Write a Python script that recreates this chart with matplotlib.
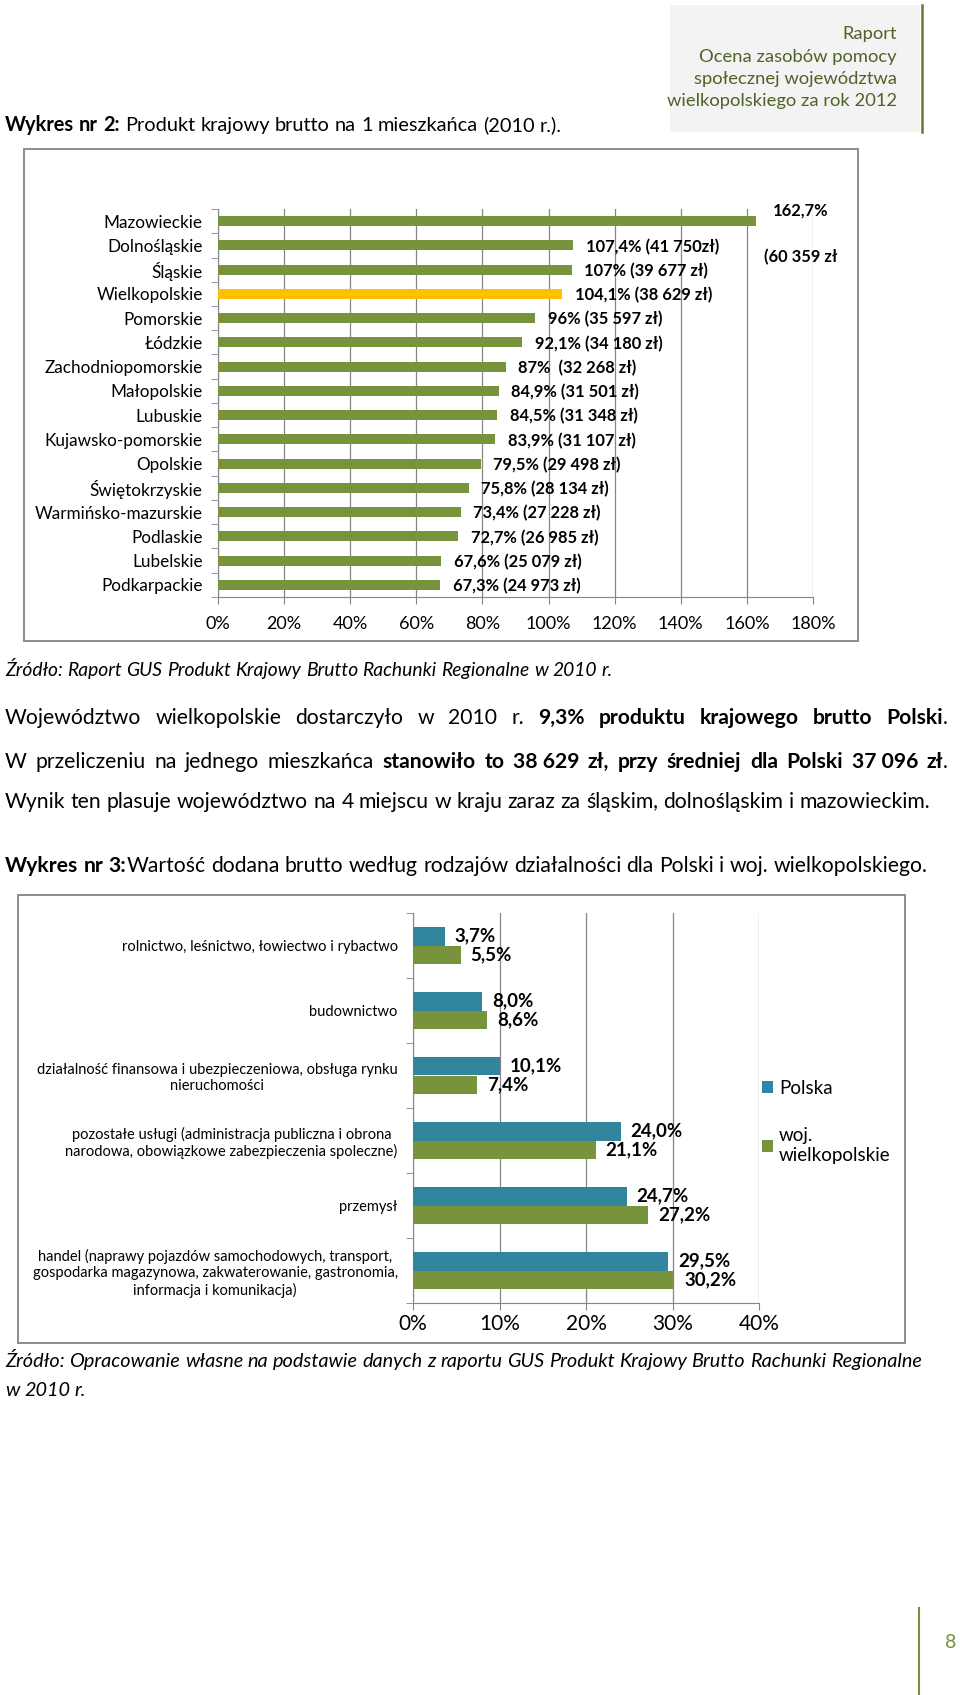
import matplotlib
matplotlib.use("Agg")
import matplotlib.pyplot as plt
import numpy as np
from matplotlib.patches import Rectangle
from matplotlib.lines import Line2D

plt.rcParams['font.family'] = ['Lato', 'DejaVu Sans']

# --- data: chart 2 (GDP per capita 2010) ---
regions = ["Mazowieckie", "Dolnośląskie", "Śląskie", "Wielkopolskie", "Pomorskie",
           "Łódzkie", "Zachodniopomorskie", "Małopolskie", "Lubuskie", "Kujawsko-pomorskie",
           "Opolskie", "Świętokrzyskie", "Warmińsko-mazurskie", "Podlaskie", "Lubelskie",
           "Podkarpackie"]
gdp_pct = [162.7, 107.4, 107.0, 104.1, 96.0, 92.1, 87.0, 84.9, 84.5, 83.9,
           79.5, 75.8, 73.4, 72.7, 67.6, 67.3]
gdp_labels = ["162,7%\n\n(60 359 zł", "107,4% (41 750zł)", "107% (39 677 zł)",
              "104,1% (38 629 zł)", "96% (35 597 zł)", "92,1% (34 180 zł)",
              "87%  (32 268 zł)", "84,9% (31 501 zł)", "84,5% (31 348 zł)",
              "83,9% (31 107 zł)", "79,5% (29 498 zł)", "75,8% (28 134 zł)",
              "73,4% (27 228 zł)", "72,7% (26 985 zł)", "67,6% (25 079 zł)",
              "67,3% (24 973 zł)"]
highlight = "Wielkopolskie"
gdp_ticks = [0, 20, 40, 60, 80, 100, 120, 140, 160, 180]

# --- data: chart 3 (gross value added by sector) ---
sectors = ["rolnictwo, leśnictwo, łowiectwo i rybactwo",
           "budownictwo",
           "działalność finansowa i ubezpieczeniowa, obsługa rynku\nnieruchomości",
           "pozostałe usługi (administracja publiczna i obrona\nnarodowa, obowiązkowe zabezpieczenia spoleczne)",
           "przemysł",
           "handel (naprawy pojazdów samochodowych, transport,\ngospodarka magazynowa, zakwaterowanie, gastronomia,\ninformacja i komunikacja)"]
polska = [3.7, 8.0, 10.1, 24.0, 24.7, 29.5]
wlkp = [5.5, 8.6, 7.4, 21.1, 27.2, 30.2]
gva_ticks = [0, 10, 20, 30, 40]

GREEN = '#77933C'
YELLOW = '#FFC000'
TEAL = '#31859C'
GRID = '#868686'
OLIVE = '#4F6228'

W, H = 960, 1695
fig = plt.figure(figsize=(W / 100, H / 100), dpi=100)
renderer = fig.canvas.get_renderer()


def fx(x):
    return x / W


def fy(y):
    return 1 - y / H


def axes_px(x0, y0, x1, y1):
    return fig.add_axes([fx(x0), fy(y1), (x1 - x0) / W, (y1 - y0) / H])


def frame_px(x0, y0, x1, y1, **kw):
    fig.add_artist(Rectangle((fx(x0), fy(y1)), (x1 - x0) / W, (y1 - y0) / H,
                             transform=fig.transFigure, zorder=-1, **kw))


def text_width(s, **kw):
    t = fig.text(0, 0, s, **kw)
    w = t.get_window_extent(renderer).width
    t.remove()
    return w


def to_words(runs):
    words = []
    glue = False
    for txt, wt in runs:
        parts = txt.split(' ')
        for i, p in enumerate(parts):
            if i == 0 and glue:
                if p:
                    words[-1].append((p, wt))
            elif p:
                words.append([(p, wt)])
        glue = not txt.endswith(' ')
    return words


def draw_line(runs, y, x0, x1=None, size=12.5, style='normal', color='black'):
    # y is the visual middle of the line; words sit on a common baseline
    base = y + 0.3 * size * 100 / 72
    words = to_words(runs)
    sized = []
    for word in words:
        sized.append([(s, wt, text_width(s, fontsize=size, fontweight=wt, style=style))
                      for s, wt in word])
    total = sum(w for word in sized for _, _, w in word)
    if x1 is None:
        gap = text_width("x x", fontsize=size, style=style) - text_width("xx", fontsize=size, style=style)
    else:
        gap = (x1 - x0 - total) / (len(sized) - 1)
    x = x0
    for word in sized:
        for s, wt, w in word:
            fig.text(fx(x), fy(base), s, fontsize=size, fontweight=wt, style=style,
                     color=color, ha='left', va='baseline')
            x += w
        x += gap


# header box
frame_px(670, 5, 920, 132, facecolor='#f3f3f3', edgecolor='none')
fig.add_artist(Line2D([fx(922), fx(922)], [fy(5), fy(132)], color='#5f7a33', lw=1.8,
                      transform=fig.transFigure))
for txt, yy in zip(["Raport", "Ocena zasobów pomocy", "społecznej województwa",
                    "wielkopolskiego za rok 2012"], [34, 57, 79, 101]):
    fig.text(fx(897), fy(yy), txt, fontsize=13.2, color=OLIVE, ha='right', va='center')

draw_line([("Wykres nr 2:", 'bold'), (" Produkt krajowy brutto na 1 mieszkańca (2010 r.).", 'normal')],
          125, 5, size=14.4)

# ---------- chart 1 ----------
frame_px(24, 149, 858, 641, facecolor='white', edgecolor='#8c8c8c', lw=1.4)
ax1 = axes_px(218, 209, 813, 597)
ypos = np.arange(len(regions))
colors = [YELLOW if r == highlight else GREEN for r in regions]
ax1.barh(ypos, gdp_pct, height=0.42, color=colors, zorder=3)
ax1.set_xlim(0, 180)
ax1.set_ylim(len(regions) - 0.5, -0.5)
ax1.set_xticks(gdp_ticks)
ax1.set_xticklabels([f"{v}%" for v in gdp_ticks])
ax1.set_yticks(ypos)
ax1.set_yticklabels(regions)
ax1.set_yticks(np.arange(len(regions) + 1) - 0.5, minor=True)
ax1.xaxis.grid(True, color=GRID, lw=0.9)
ax1.set_axisbelow(True)
for s in ['top', 'right']:
    ax1.spines[s].set_visible(False)
for s in ['left', 'bottom']:
    ax1.spines[s].set_color(GRID)
ax1.tick_params(axis='x', direction='out', length=5, color=GRID, labelsize=13, pad=9)
ax1.tick_params(axis='y', which='major', length=0, labelsize=12.3, pad=11)
ax1.tick_params(axis='y', which='minor', direction='out', length=5, color=GRID)
ax1.patch.set_alpha(0)

for i, (v, lab) in enumerate(zip(gdp_pct, gdp_labels)):
    if i == 0:
        ax1.annotate(lab, (v, i), xytext=(32, -9), textcoords='offset points',
                     ha='center', va='center', fontsize=11.9, fontweight='bold',
                     annotation_clip=False, linespacing=1.55)
    else:
        ax1.annotate(lab, (v, i), xytext=(9, -1), textcoords='offset points',
                     ha='left', va='center', fontsize=11.9, fontweight='bold')

draw_line([("Źródło: Raport GUS Produkt Krajowy Brutto Rachunki Regionalne w 2010 r.", 'normal')],
          670, 5, size=13.9, style='italic')

# ---------- paragraph ----------
draw_line([("Województwo wielkopolskie dostarczyło w 2010 r. ", 'normal'),
           ("9,3% produktu krajowego brutto Polski", 'bold'), (".", 'normal')],
          718, 5, 948, size=15.2)
draw_line([("W przeliczeniu na jednego mieszkańca ", 'normal'),
           ("stanowiło to 38\u00a0629 zł, przy średniej dla Polski 37\u00a0096 zł", 'bold'),
           (".", 'normal')],
          762, 5, 948, size=15.2)
draw_line([("Wynik ten plasuje województwo na 4 miejscu w kraju zaraz za śląskim, "
            "dolnośląskim i mazowieckim.", 'normal')], 802, 5, size=15.2)
draw_line([("Wykres nr 3:", 'bold'),
           ("Wartość dodana brutto według rodzajów działalności dla Polski i woj. wielkopolskiego.",
            'normal')], 866, 5, size=15.2)

# ---------- chart 2 ----------
frame_px(18, 895, 905, 1343, facecolor='white', edgecolor='#8c8c8c', lw=1.4)
ax2 = axes_px(413, 913, 759, 1303)
yc = np.arange(len(sectors))
bh = 0.286
ax2.barh(yc - bh / 2, polska, height=bh, color=TEAL, label='Polska', zorder=3)
ax2.barh(yc + bh / 2, wlkp, height=bh, color=GREEN, label='woj.\nwielkopolskie', zorder=3)
ax2.set_xlim(0, 40)
ax2.set_ylim(len(sectors) - 0.5, -0.5)
ax2.set_xticks(gva_ticks)
ax2.set_xticklabels([f"{v}%" for v in gva_ticks])
ax2.set_yticks(yc)
ax2.set_yticklabels(sectors, multialignment='center', fontsize=10.5)
ax2.set_yticks(np.arange(len(sectors) + 1) - 0.5, minor=True)
ax2.xaxis.grid(True, color=GRID, lw=0.9)
ax2.set_axisbelow(True)
for s in ['top', 'right']:
    ax2.spines[s].set_visible(False)
for s in ['left', 'bottom']:
    ax2.spines[s].set_color(GRID)
ax2.tick_params(axis='x', direction='out', length=5, color=GRID, labelsize=15, pad=3)
ax2.tick_params(axis='y', which='major', length=0, pad=11)
ax2.tick_params(axis='y', which='minor', direction='out', length=5, color=GRID)
ax2.patch.set_alpha(0)

for i, (p, w) in enumerate(zip(polska, wlkp)):
    ax2.annotate(f"{p:.1f}%".replace('.', ','), (p, i - bh / 2), xytext=(7, 0),
                 textcoords='offset points', ha='left', va='center',
                 fontsize=13.5, fontweight='bold')
    ax2.annotate(f"{w:.1f}%".replace('.', ','), (w, i + bh / 2), xytext=(7, 0),
                 textcoords='offset points', ha='left', va='center',
                 fontsize=13.5, fontweight='bold')

fig.legend(*ax2.get_legend_handles_labels(), loc='upper left',
           bbox_to_anchor=(fx(762), fy(1080)), frameon=False, fontsize=13.5,
           handlelength=0.6, handleheight=0.6, handletextpad=0.3, labelspacing=1.6,
           borderpad=0, borderaxespad=0)

draw_line([("Źródło: Opracowanie własne na podstawie danych z raportu GUS Produkt Krajowy "
            "Brutto Rachunki Regionalne", 'normal')], 1361, 5, size=14.3, style='italic')
draw_line([("w 2010 r.", 'normal')], 1390, 5, size=14.3, style='italic')

# page number
fig.add_artist(Line2D([fx(919), fx(919)], [fy(1608), fy(1695)], color='#76923C', lw=1.5,
                      transform=fig.transFigure))
fig.text(fx(951), fy(1643), "8", fontsize=14, color='#76923C', ha='center', va='center')

fig.savefig("out.png", dpi=100, facecolor='white')
